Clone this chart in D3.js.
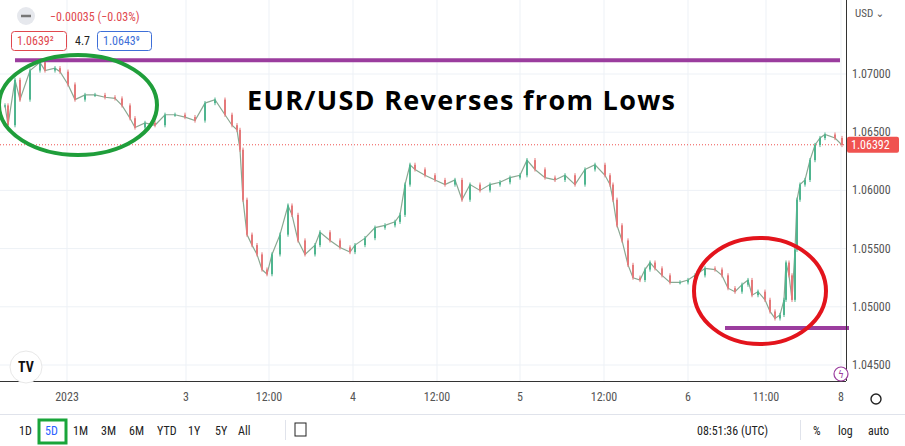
<!DOCTYPE html>
<html><head><meta charset="utf-8">
<script src="https://cdn.jsdelivr.net/npm/d3@7"></script>
<style>body{margin:0;background:#fff}svg{display:block;font-family:"Liberation Sans Narrow","Roboto Condensed","DejaVu Sans Condensed",sans-serif}</style>
</head><body><svg id="c" width="905" height="446"></svg>
<script>
// data: time index (session units) and close prices
const times=[5,8,15,20,30,40,45,55,60,68,75,85,95,105,115,122,130,135,145,155,165,175,185,195,205,215,225,232,237,240,243,247,252,257,262,267,272,280,288,292,298,305,315,320,330,340,350,355,365,375,385,395,400,405,410,415,425,435,445,455,462,470,480,490,500,510,520,527,535,545,555,565,575,585,595,605,610,613,617,622,628,633,640,645,650,655,662,670,680,688,695,705,715,722,728,735,742,748,752,758,765,770,775,780,784,786,789,792,795,797,800,805,810,815,820,825,835,842];
const closes=[1.0673,1.0656,1.0695,1.0678,1.0703,1.0710,1.0703,1.0705,1.0702,1.0691,1.0678,1.0682,1.0682,1.0680,1.0679,1.0673,1.0662,1.0654,1.0658,1.0656,1.0665,1.0665,1.0663,1.0660,1.0675,1.0678,1.0665,1.0656,1.0652,1.0635,1.0592,1.0562,1.0553,1.0545,1.0532,1.0528,1.0545,1.0562,1.0587,1.0579,1.0557,1.0545,1.0553,1.0564,1.0557,1.0551,1.0547,1.0553,1.0559,1.0568,1.0570,1.0573,1.0579,1.0605,1.0622,1.0618,1.0613,1.0609,1.0605,1.0609,1.0592,1.0605,1.0600,1.0605,1.0607,1.0611,1.0613,1.0626,1.0618,1.0611,1.0609,1.0613,1.0605,1.0618,1.0622,1.0613,1.0605,1.0592,1.0570,1.0557,1.0536,1.0525,1.0523,1.0532,1.0538,1.0533,1.0527,1.0521,1.0521,1.0523,1.0527,1.0533,1.0532,1.0527,1.0516,1.0513,1.0519,1.0523,1.0510,1.0513,1.0506,1.0496,1.0490,1.0493,1.0506,1.0538,1.0527,1.0506,1.0549,1.0592,1.0605,1.0609,1.0626,1.0639,1.0645,1.0648,1.0645,1.0639];
const priceTicks=[1.045,1.05,1.055,1.06,1.065,1.07];
const timeTicks=[67,186,269,353,437,520,604,688,766,841];
const timeLabels=["2023","3","12:00","4","12:00","5","12:00","6","11:00","8"];
const lastPrice=1.06392, highLine=1.07118, lowLine=1.04818;
const ranges=["1D","5D","1M","3M","6M","YTD","1Y","5Y","All"];

const svg=d3.select("#c");
const x=d3.scaleLinear().domain([0,846]).range([0,846]);
const y=d3.scaleLinear().domain([1.045,1.07]).range([365,74]);
const g=svg.append("g");
g.selectAll(".hg").data(priceTicks).join("line").attr("x1",0).attr("x2",846).attr("y1",d=>y(d)).attr("y2",d=>y(d)).attr("stroke","#edf1f6");
g.selectAll(".vg").data(timeTicks).join("line").attr("x1",d=>x(d)).attr("x2",d=>x(d)).attr("y1",0).attr("y2",381).attr("stroke","#edf1f6");
g.append("line").attr("x1",0).attr("x2",846).attr("y1",y(lastPrice)).attr("y2",y(lastPrice)).attr("stroke","#ef5350").attr("stroke-dasharray","1,2");
g.append("path").datum(times.map((t,i)=>[t,closes[i]])).attr("fill","none").attr("stroke","#8aa892").attr("stroke-width",1.2)
 .attr("d",d3.line().x(d=>x(d[0])).y(d=>y(d[1])));
const cd=times.map((t,i)=>({t,o:i?closes[i-1]:closes[i],c:closes[i]}));
const up="#4fb58f",dn="#e5797a";
g.selectAll(".w").data(cd).join("line").attr("x1",d=>x(d.t)).attr("x2",d=>x(d.t))
 .attr("y1",d=>y(Math.max(d.o,d.c)+0.00018)).attr("y2",d=>y(Math.min(d.o,d.c)-0.00018)).attr("stroke",d=>d.c>=d.o?up:dn).attr("stroke-width",1);
g.selectAll(".b").data(cd).join("rect").attr("x",d=>x(d.t)-1).attr("width",2)
 .attr("y",d=>y(Math.max(d.o,d.c))).attr("height",d=>Math.max(1,Math.abs(y(d.o)-y(d.c)))).attr("fill",d=>d.c>=d.o?up:dn);
g.append("line").attr("x1",15).attr("x2",840).attr("y1",y(highLine)).attr("y2",y(highLine)).attr("stroke","#9b3d9e").attr("stroke-width",4);
g.append("line").attr("x1",725).attr("x2",849).attr("y1",y(lowLine)).attr("y2",y(lowLine)).attr("stroke","#9b3d9e").attr("stroke-width",4);
g.append("ellipse").attr("cx",78).attr("cy",105).attr("rx",79).attr("ry",50).attr("fill","none").attr("stroke","#1f9e3a").attr("stroke-width",4);
g.append("ellipse").attr("cx",760).attr("cy",291).attr("rx",66).attr("ry",53).attr("fill","none").attr("stroke","#e3141c").attr("stroke-width",4);
svg.append("text").attr("x",461).attr("y",110).attr("text-anchor","middle").attr("font-family","'Open Sans',sans-serif").attr("font-weight","bold").attr("font-size",27).attr("textLength",428).attr("fill","#000").text("EUR/USD Reverses from Lows");
svg.append("line").attr("x1",846.5).attr("x2",846.5).attr("y1",0).attr("y2",381).attr("stroke","#333");
svg.append("line").attr("x1",0).attr("x2",846).attr("y1",381.5).attr("y2",381.5).attr("stroke","#333");
svg.append("line").attr("x1",0).attr("x2",905).attr("y1",414.5).attr("y2",414.5).attr("stroke","#e0e3eb");
svg.selectAll(".pt").data(priceTicks).join("text").attr("x",852).attr("y",d=>y(d)+4).attr("font-size",12).attr("fill","#555").text(d=>d.toFixed(5));
svg.append("rect").attr("x",847).attr("y",y(lastPrice)-8).attr("width",52).attr("height",16).attr("rx",2).attr("fill","#f05350");
svg.append("text").attr("x",851).attr("y",y(lastPrice)+4).attr("font-size",12).attr("fill","#fff").text(lastPrice.toFixed(5));
svg.selectAll(".tl").data(timeTicks).join("text").attr("x",(d,i)=>x(d)).attr("y",401).attr("text-anchor","middle").attr("font-size",12).attr("fill","#555").text((d,i)=>timeLabels[i]);
svg.append("text").attr("x",855).attr("y",17).attr("font-size",11).attr("fill","#555").text("USD ⌄");
svg.append("circle").attr("cx",876).attr("cy",399).attr("r",5).attr("fill","none").attr("stroke","#222").attr("stroke-width",1.4);
svg.append("circle").attr("cx",26).attr("cy",16).attr("r",9).attr("fill","#e6e8ed");
svg.append("line").attr("x1",21).attr("x2",31).attr("y1",16).attr("y2",16).attr("stroke","#777").attr("stroke-width",2.5);
svg.append("text").attr("x",50).attr("y",21).attr("font-size",12).attr("fill","#e0484e").text("−0.00035 (−0.03%)");
svg.append("rect").attr("x",11.5).attr("y",31.5).attr("width",55).attr("height",19).attr("rx",3).attr("fill","#fff").attr("stroke","#e0484e");
svg.append("text").attr("x",17).attr("y",45).attr("font-size",12).attr("fill","#e0484e").text("1.0639²");
svg.append("text").attr("x",75).attr("y",45).attr("font-size",12).attr("fill","#222").text("4.7");
svg.append("rect").attr("x",97.5).attr("y",31.5).attr("width",54).attr("height",19).attr("rx",3).attr("fill","#fff").attr("stroke","#3e6fd8");
svg.append("text").attr("x",103).attr("y",45).attr("font-size",12).attr("fill","#3e6fd8").text("1.0643⁹");
svg.append("circle").attr("cx",26).attr("cy",367).attr("r",16).attr("fill","#fff").attr("stroke","#e8e8e8");
svg.append("text").attr("x",26).attr("y",372).attr("text-anchor","middle").attr("font-weight","bold").attr("font-size",14).attr("fill","#111").text("TV");
svg.append("circle").attr("cx",841).attr("cy",374).attr("r",7).attr("fill","#fff").attr("stroke","#9b3d9e").attr("stroke-width",1.2);
svg.append("text").attr("x",841).attr("y",378).attr("text-anchor","middle").attr("font-size",10).attr("fill","#9b3d9e").text("ϟ");
const rx=[19,45,73,101,129,157,188,215,238];
svg.selectAll(".rg").data(ranges).join("text").attr("x",(d,i)=>rx[i]).attr("y",435).attr("font-size",12).attr("fill",(d,i)=>i==1?"#2962ff":"#222").text(d=>d);
svg.append("rect").attr("x",39).attr("y",420).attr("width",27).attr("height",23).attr("fill","none").attr("stroke","#19a53a").attr("stroke-width",3);
svg.append("line").attr("x1",285.5).attr("x2",285.5).attr("y1",420).attr("y2",440).attr("stroke","#e0e3eb");
svg.append("rect").attr("x",295).attr("y",423).attr("width",11).attr("height",13).attr("fill","none").attr("stroke","#222");
svg.append("text").attr("x",697).attr("y",435).attr("font-size",12).attr("fill","#222").text("08:51:36 (UTC)");
svg.append("line").attr("x1",800.5).attr("x2",800.5).attr("y1",420).attr("y2",440).attr("stroke","#e0e3eb");
svg.append("text").attr("x",813).attr("y",435).attr("font-size",12).attr("fill","#222").text("%");
svg.append("text").attr("x",838).attr("y",435).attr("font-size",12).attr("fill","#222").text("log");
svg.append("text").attr("x",868).attr("y",435).attr("font-size",12).attr("fill","#222").text("auto");
</script></body></html>
